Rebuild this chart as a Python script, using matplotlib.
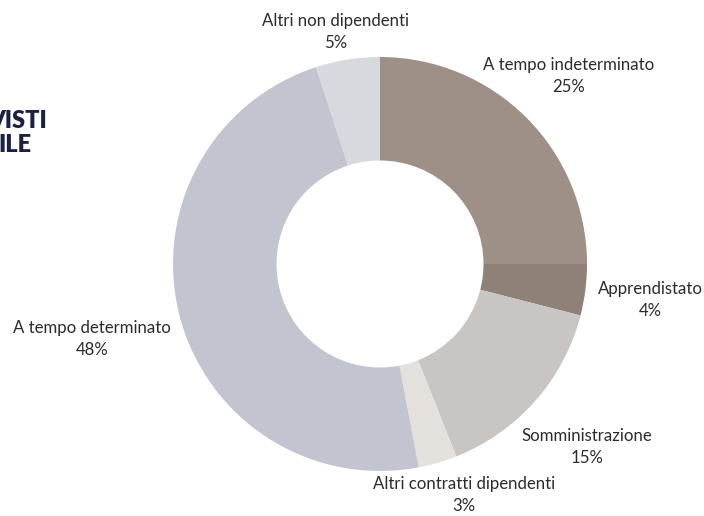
import matplotlib.pyplot as plt

# data (clockwise from 12 o'clock)
categories = ['A tempo indeterminato', 'Apprendistato', 'Somministrazione',
              'Altri contratti dipendenti', 'A tempo determinato', 'Altri non dipendenti']
shares = [25, 4, 15, 3, 48, 5]
colors = ['#9e9087', '#8f8078', '#c8c5c2', '#e4e1dd', '#c2c5d0', '#d6d9dd']

# label centres in pixels (x, y from top)
label_px = [(569, 76), (650, 300), (587, 447), (464, 495), (92, 339), (336, 32)]

W, H = 704, 516
cx, cy, r = 380, 264, 207

plt.rcParams['font.family'] = ['Lato', 'DejaVu Sans']
fig = plt.figure(figsize=(W / 100, H / 100), dpi=100)
ax = fig.add_axes([(cx - r) / W, (H - cy - r) / H, 2 * r / W, 2 * r / H])
ax.pie(shares, colors=colors, startangle=90, counterclock=False, radius=1,
       wedgeprops=dict(width=0.5, linewidth=0))
ax.set_xlim(-1, 1)
ax.set_ylim(-1, 1)
ax.axis('off')

for name, val, (px, py) in zip(categories, shares, label_px):
    fig.text(px / W, 1 - py / H, f'{name}\n{val}%', ha='center', va='center',
             fontsize=12.1, color='#2b2b2b', linespacing=1.5)

# title cut off at the left edge, as in the reference
fig.text(47 / W, 1 - 121 / H, 'VISTI', ha='right', va='center',
         fontsize=17, fontweight='heavy', color='#1c2142')
fig.text(32 / W, 1 - 145 / H, 'ILE', ha='right', va='center',
         fontsize=17, fontweight='heavy', color='#1c2142')

fig.savefig('out.png', dpi=100)
